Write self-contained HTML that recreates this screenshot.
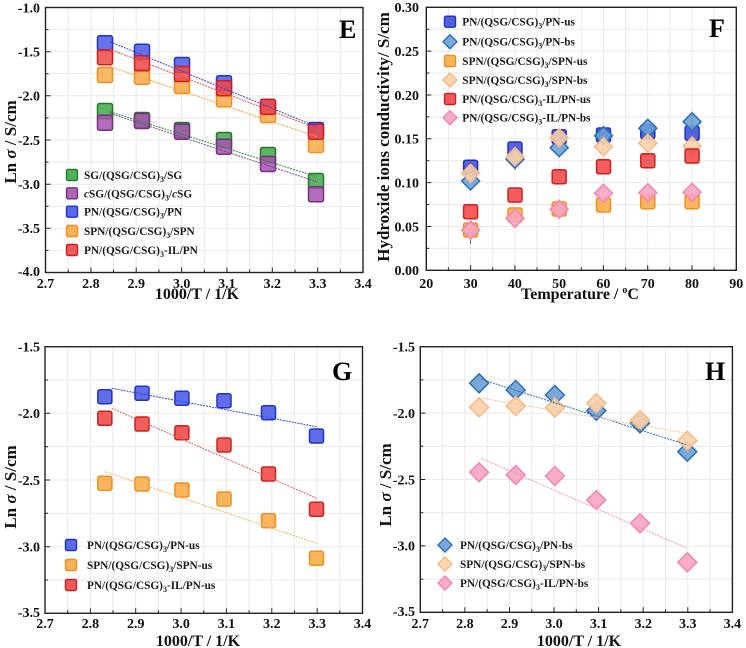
<!DOCTYPE html>
<html><head><meta charset="utf-8"><style>
html,body{margin:0;padding:0;background:#fff;}
svg{display:block;}
text{font-family:"Liberation Serif",serif;}
.tl{font-size:14px;font-weight:bold;fill:#111;}
.tt{font-size:16px;font-weight:bold;fill:#111;}
.yt{font-size:17px;font-weight:bold;fill:#111;}
.lg{font-size:11.3px;font-weight:bold;fill:#1a1a1a;}
.lt{font-size:26px;font-weight:bold;fill:#000;}
.grid{stroke:#e9e9e9;stroke-width:1;fill:none;}
.fr{fill:none;stroke:#222;stroke-width:1.4;}
.tk{stroke:#222;stroke-width:1;fill:none;}
</style></head><body>
<svg width="746" height="648" viewBox="0 0 746 648" xmlns="http://www.w3.org/2000/svg">
<defs>
<rect id="sq" x="-7.5" y="-7.5" width="15" height="15" rx="2"/>
<rect id="sqs" x="-7" y="-7" width="14" height="14" rx="2"/>
<rect id="sql" x="-5.5" y="-5.5" width="11" height="11" rx="1.5"/>
<path id="dm" d="M0 -9 L9 0 L0 9 L-9 0Z"/>
<path id="dmh" d="M0 -9.5 L9.5 0 L0 9.5 L-9.5 0Z"/>
<path id="dml" d="M0 -7 L7 0 L0 7 L-7 0Z"/>
</defs>

<!-- ================= PANEL E ================= -->
<path class="grid" d="M68.2 7.5V272.5M90.9 7.5V272.5M113.5 7.5V272.5M136.2 7.5V272.5M158.9 7.5V272.5M181.6 7.5V272.5M204.3 7.5V272.5M226.9 7.5V272.5M249.6 7.5V272.5M272.3 7.5V272.5M295 7.5V272.5M317.7 7.5V272.5M340.3 7.5V272.5
M45.5 29.6H363M45.5 51.7H363M45.5 73.7H363M45.5 95.8H363M45.5 117.9H363M45.5 140H363M45.5 162.1H363M45.5 184.2H363M45.5 206.2H363M45.5 228.3H363M45.5 250.4H363"/>
<path class="tk" d="M68.2 272.5v-3M90.9 272.5v-5M113.5 272.5v-3M136.2 272.5v-5M158.9 272.5v-3M181.6 272.5v-5M204.3 272.5v-3M226.9 272.5v-5M249.6 272.5v-3M272.3 272.5v-5M295 272.5v-3M317.7 272.5v-5M340.3 272.5v-3
M45.5 29.6h3M45.5 51.7h5M45.5 73.7h3M45.5 95.8h5M45.5 117.9h3M45.5 140h5M45.5 162.1h3M45.5 184.2h5M45.5 206.2h3M45.5 228.3h5M45.5 250.4h3"/>
<rect class="fr" x="45.5" y="7.5" width="317.5" height="265"/>

<g stroke-width="1.5" fill-opacity="0.85">
<g fill="#3fa84a" stroke="#1d7a2a">
<use href="#sq" x="105" y="111"/><use href="#sq" x="142" y="120"/><use href="#sq" x="182" y="130"/><use href="#sq" x="224" y="140"/><use href="#sq" x="268" y="155"/><use href="#sq" x="316" y="181"/>
</g>
<g fill="#a455ae" stroke="#74307f">
<use href="#sq" x="105" y="122.7"/><use href="#sq" x="142" y="121"/><use href="#sq" x="182" y="131.7"/><use href="#sq" x="224" y="146.7"/><use href="#sq" x="268" y="164"/><use href="#sq" x="316" y="194.3"/>
</g>
<g fill="#4a5ae8" stroke="#2232c4">
<use href="#sq" x="105" y="43.3"/><use href="#sq" x="142" y="51.7"/><use href="#sq" x="182" y="65"/><use href="#sq" x="224" y="83.3"/><use href="#sq" x="268" y="107.3"/><use href="#sq" x="316" y="130"/>
</g>
<g fill="#f8ac48" stroke="#ee9020">
<use href="#sq" x="105" y="75"/><use href="#sq" x="142" y="76.7"/><use href="#sq" x="182" y="86"/><use href="#sq" x="224" y="99.3"/><use href="#sq" x="268" y="115"/><use href="#sq" x="316" y="145"/>
</g>
<g fill="#f04848" stroke="#cc2020">
<use href="#sq" x="105" y="57.3"/><use href="#sq" x="142" y="63.3"/><use href="#sq" x="182" y="74"/><use href="#sq" x="224" y="88.3"/><use href="#sq" x="268" y="106.7"/><use href="#sq" x="316" y="131.7"/>
</g>
</g>
<g stroke-width="1" stroke-dasharray="2,1">
<path d="M110 41.7L316.7 126.7" stroke="#3344dd"/>
<path d="M110 49.3L316.7 128.3" stroke="#e84a4a"/>
<path d="M110 66.7L316.7 136.7" stroke="#f5a040"/>
<path d="M110 111.7L316.7 176.7" stroke="#2a8a3a"/>
<path d="M110 113.3L316.7 181.7" stroke="#8a3f98"/>
</g>

<!-- legend E -->
<g stroke-width="1.4" fill-opacity="0.9">
<use href="#sql" x="72" y="175" fill="#3fa84a" stroke="#1d7a2a"/>
<use href="#sql" x="72" y="193.3" fill="#a455ae" stroke="#74307f"/>
<use href="#sql" x="72" y="211.7" fill="#4a5ae8" stroke="#2232c4"/>
<use href="#sql" x="72" y="231" fill="#f8ac48" stroke="#ee9020"/>
<use href="#sql" x="72" y="250" fill="#f04848" stroke="#cc2020"/>
</g>
<text class="lg" x="84" y="179">SG/(QSG/CSG)<tspan font-size="8" dy="3">3</tspan><tspan dy="-3">/SG</tspan></text>
<text class="lg" x="84" y="197.3"><tspan font-style="italic">c</tspan>SG/(QSG/CSG)<tspan font-size="8" dy="3">3</tspan><tspan dy="-3">/</tspan><tspan font-style="italic">c</tspan>SG</text>
<text class="lg" x="84" y="215.7">PN/(QSG/CSG)<tspan font-size="8" dy="3">3</tspan><tspan dy="-3">/PN</tspan></text>
<text class="lg" x="84" y="235">SPN/(QSG/CSG)<tspan font-size="8" dy="3">3</tspan><tspan dy="-3">/SPN</tspan></text>
<text class="lg" x="84" y="254">PN/(QSG/CSG)<tspan font-size="8" dy="3">3</tspan><tspan dy="-3">-IL/PN</tspan></text>

<text class="lt" x="339" y="38">E</text>
<g class="tl" text-anchor="end">
<text x="40" y="12.3">-1.0</text><text x="40" y="56.5">-1.5</text><text x="40" y="100.6">-2.0</text><text x="40" y="144.8">-2.5</text><text x="40" y="189">-3.0</text><text x="40" y="233.1">-3.5</text><text x="40" y="276">-4.0</text>
</g>
<g class="tl" text-anchor="middle">
<text x="45.5" y="288">2.7</text><text x="90.9" y="288">2.8</text><text x="136.2" y="288">2.9</text><text x="181.6" y="288">3.0</text><text x="226.9" y="288">3.1</text><text x="272.3" y="288">3.2</text><text x="317.7" y="288">3.3</text><text x="363" y="288">3.4</text>
</g>
<text class="tt" x="197" y="299" text-anchor="middle">1000/T / 1/K</text>
<text class="yt" transform="translate(16,142) rotate(-90)" text-anchor="middle">Ln <tspan font-style="italic">σ</tspan> / S/cm</text>

<!-- ================= PANEL F ================= -->
<path class="grid" d="M448.4 7.3V270.3M470.6 7.3V270.3M492.7 7.3V270.3M514.9 7.3V270.3M537 7.3V270.3M559.1 7.3V270.3M581.3 7.3V270.3M603.4 7.3V270.3M625.6 7.3V270.3M647.7 7.3V270.3M669.8 7.3V270.3M692 7.3V270.3M714.1 7.3V270.3
M426.3 248.4H736.3M426.3 226.5H736.3M426.3 204.5H736.3M426.3 182.6H736.3M426.3 160.7H736.3M426.3 138.8H736.3M426.3 116.9H736.3M426.3 95H736.3M426.3 73H736.3M426.3 51.1H736.3M426.3 29.2H736.3"/>
<path class="tk" d="M448.4 270.3v-3M470.6 270.3v-5M492.7 270.3v-3M514.9 270.3v-5M537 270.3v-3M559.1 270.3v-5M581.3 270.3v-3M603.4 270.3v-5M625.6 270.3v-3M647.7 270.3v-5M669.8 270.3v-3M692 270.3v-5M714.1 270.3v-3
M426.3 248.4h3M426.3 226.5h5M426.3 204.5h3M426.3 182.6h5M426.3 160.7h3M426.3 138.8h5M426.3 116.9h3M426.3 95h5M426.3 73h3M426.3 51.1h5M426.3 29.2h3"/>
<rect class="fr" x="426.3" y="7.3" width="310" height="263"/>

<!-- error bars -->
<path d="M470.6 222V244M515 150V170M692 112V130M559.2 134V142M470.6 160V176M603.5 128V142" stroke="#555" stroke-width="0.9"/>

<g stroke-width="1.5" fill-opacity="0.88">
<g fill="#3e4fd8" stroke="#2030c0">
<use href="#sqs" x="470.6" y="167.3"/><use href="#sqs" x="515" y="149"/><use href="#sqs" x="559.2" y="136.7"/><use href="#sqs" x="603.5" y="135"/><use href="#sqs" x="647.8" y="131.7"/><use href="#sqs" x="692.1" y="133.3"/>
</g>
<g fill="#6b9fd4" stroke="#2a70b8">
<use href="#dm" x="470.6" y="181"/><use href="#dm" x="515" y="159.3"/><use href="#dm" x="559.2" y="147.7"/><use href="#dm" x="603.5" y="135.7"/><use href="#dm" x="647.8" y="128.3"/><use href="#dm" x="692.1" y="121.7"/>
</g>
<g fill="#f8ac48" stroke="#ee9020">
<use href="#sqs" x="470.6" y="230"/><use href="#sqs" x="515" y="215"/><use href="#sqs" x="559.2" y="209"/><use href="#sqs" x="603.5" y="205"/><use href="#sqs" x="647.8" y="201.7"/><use href="#sqs" x="692.1" y="201.7"/>
</g>
<g fill="#fcd0a8" stroke="#f8b888">
<use href="#dm" x="470.6" y="173.3"/><use href="#dm" x="515" y="156.7"/><use href="#dm" x="559.2" y="137.7"/><use href="#dm" x="603.5" y="146.7"/><use href="#dm" x="647.8" y="143.3"/><use href="#dm" x="692.1" y="146"/>
</g>
<g fill="#f04848" stroke="#cc2020">
<use href="#sqs" x="470.6" y="211.7"/><use href="#sqs" x="515" y="195"/><use href="#sqs" x="559.2" y="176.7"/><use href="#sqs" x="603.5" y="166.7"/><use href="#sqs" x="647.8" y="160.7"/><use href="#sqs" x="692.1" y="156"/>
</g>
<g fill="#f8a4c4" stroke="#f088b0">
<use href="#dm" x="470.6" y="230"/><use href="#dm" x="515" y="218.3"/><use href="#dm" x="559.2" y="209.3"/><use href="#dm" x="603.5" y="193.3"/><use href="#dm" x="647.8" y="192.7"/><use href="#dm" x="692.1" y="192.3"/>
</g>
</g>

<!-- legend F -->
<g stroke-width="1.4" fill-opacity="0.9">
<use href="#sql" x="450" y="21.7" fill="#3e4fd8" stroke="#2030c0"/>
<use href="#dml" x="450" y="41.7" fill="#6b9fd4" stroke="#2a70b8"/>
<use href="#sql" x="450" y="61" fill="#f8ac48" stroke="#ee9020"/>
<use href="#dml" x="450" y="80" fill="#fcd0a8" stroke="#f8b888"/>
<use href="#sql" x="450" y="99" fill="#f04848" stroke="#cc2020"/>
<use href="#dml" x="450" y="117.7" fill="#f8a4c4" stroke="#f088b0"/>
</g>
<text class="lg" x="462.3" y="25.7">PN/(QSG/CSG)<tspan font-size="8" dy="3">3</tspan><tspan dy="-3">/PN-us</tspan></text>
<text class="lg" x="462.3" y="45.7">PN/(QSG/CSG)<tspan font-size="8" dy="3">3</tspan><tspan dy="-3">/PN-bs</tspan></text>
<text class="lg" x="462.3" y="65">SPN/(QSG/CSG)<tspan font-size="8" dy="3">3</tspan><tspan dy="-3">/SPN-us</tspan></text>
<text class="lg" x="462.3" y="84">SPN/(QSG/CSG)<tspan font-size="8" dy="3">3</tspan><tspan dy="-3">/SPN-bs</tspan></text>
<text class="lg" x="462.3" y="103">PN/(QSG/CSG)<tspan font-size="8" dy="3">3</tspan><tspan dy="-3">-IL/PN-us</tspan></text>
<text class="lg" x="462.3" y="121.7">PN/(QSG/CSG)<tspan font-size="8" dy="3">3</tspan><tspan dy="-3">-IL/PN-bs</tspan></text>

<text class="lt" x="709" y="37">F</text>
<g class="tl" text-anchor="end">
<text x="419" y="275">0.00</text><text x="419" y="231.3">0.05</text><text x="419" y="187.4">0.10</text><text x="419" y="143.6">0.15</text><text x="419" y="99.8">0.20</text><text x="419" y="55.9">0.25</text><text x="419" y="12.1">0.30</text>
</g>
<g class="tl" text-anchor="middle">
<text x="426.3" y="288">20</text><text x="470.6" y="288">30</text><text x="514.9" y="288">40</text><text x="559.1" y="288">50</text><text x="603.4" y="288">60</text><text x="647.7" y="288">70</text><text x="692" y="288">80</text><text x="736.3" y="288">90</text>
</g>
<text class="tt" x="580" y="299" text-anchor="middle">Temperature / <tspan font-size="10" dy="-6">o</tspan><tspan dy="6">C</tspan></text>
<text class="yt" transform="translate(389,137) rotate(-90)" text-anchor="middle">Hydroxide ions conductivity/ S/cm</text>

<!-- ================= PANEL G ================= -->
<path class="grid" d="M67.7 346.7V613.3M90.4 346.7V613.3M113 346.7V613.3M135.7 346.7V613.3M158.4 346.7V613.3M181.1 346.7V613.3M203.8 346.7V613.3M226.4 346.7V613.3M249.1 346.7V613.3M271.8 346.7V613.3M294.5 346.7V613.3M317.2 346.7V613.3M339.8 346.7V613.3
M45 380H362.5M45 413.3H362.5M45 446.7H362.5M45 480H362.5M45 513.3H362.5M45 546.7H362.5M45 580H362.5"/>
<path class="tk" d="M67.7 613.3v-3M90.4 613.3v-5M113 613.3v-3M135.7 613.3v-5M158.4 613.3v-3M181.1 613.3v-5M203.8 613.3v-3M226.4 613.3v-5M249.1 613.3v-3M271.8 613.3v-5M294.5 613.3v-3M317.2 613.3v-5M339.8 613.3v-3
M45 380h3M45 413.3h5M45 446.7h3M45 480h5M45 513.3h3M45 546.7h5M45 580h3"/>
<rect class="fr" x="45" y="346.7" width="317.5" height="266.6"/>

<g stroke-width="1.5" fill-opacity="0.88">
<g fill="#4a5ae8" stroke="#2232c4">
<use href="#sqs" x="104.8" y="396.7"/><use href="#sqs" x="142" y="393.3"/><use href="#sqs" x="181.9" y="398.3"/><use href="#sqs" x="224" y="400.7"/><use href="#sqs" x="268.5" y="412.7"/><use href="#sqs" x="316.5" y="436"/>
</g>
<g fill="#f8ac48" stroke="#ee9020">
<use href="#sqs" x="104.8" y="483.3"/><use href="#sqs" x="142" y="484"/><use href="#sqs" x="181.9" y="490"/><use href="#sqs" x="224" y="499"/><use href="#sqs" x="268.5" y="520.7"/><use href="#sqs" x="316.5" y="558.3"/>
</g>
<g fill="#f04848" stroke="#cc2020">
<use href="#sqs" x="104.8" y="418.3"/><use href="#sqs" x="142" y="424"/><use href="#sqs" x="181.9" y="432.7"/><use href="#sqs" x="224" y="445"/><use href="#sqs" x="268.5" y="474"/><use href="#sqs" x="316.5" y="509.3"/>
</g>
</g>
<g stroke-width="1" stroke-dasharray="2,1">
<path d="M111.7 388.3L316.7 426.7" stroke="#3344dd"/>
<path d="M111.7 408.3L316.7 498.3" stroke="#ee5a5a"/>
<path d="M105 471.7L316.7 543.3" stroke="#f8b060"/>
</g>

<g stroke-width="1.4" fill-opacity="0.9">
<use href="#sql" x="71" y="545" fill="#4a5ae8" stroke="#2232c4"/>
<use href="#sql" x="71" y="565" fill="#f8ac48" stroke="#ee9020"/>
<use href="#sql" x="71" y="585" fill="#f04848" stroke="#cc2020"/>
</g>
<text class="lg" x="87" y="549">PN/(QSG/CSG)<tspan font-size="8" dy="3">3</tspan><tspan dy="-3">/PN-us</tspan></text>
<text class="lg" x="87" y="569">SPN/(QSG/CSG)<tspan font-size="8" dy="3">3</tspan><tspan dy="-3">/SPN-us</tspan></text>
<text class="lg" x="87" y="589">PN/(QSG/CSG)<tspan font-size="8" dy="3">3</tspan><tspan dy="-3">-IL/PN-us</tspan></text>

<text class="lt" x="332" y="380">G</text>
<g class="tl" text-anchor="end">
<text x="40" y="351.5">-1.5</text><text x="40" y="418.1">-2.0</text><text x="40" y="484.8">-2.5</text><text x="40" y="551.5">-3.0</text><text x="40" y="617">-3.5</text>
</g>
<g class="tl" text-anchor="middle">
<text x="45" y="628">2.7</text><text x="90.4" y="628">2.8</text><text x="135.7" y="628">2.9</text><text x="181.1" y="628">3.0</text><text x="226.4" y="628">3.1</text><text x="271.8" y="628">3.2</text><text x="317.2" y="628">3.3</text><text x="362.5" y="628">3.4</text>
</g>
<text class="tt" x="198" y="646" text-anchor="middle">1000/T / 1/K</text>
<text class="yt" transform="translate(16,487) rotate(-90)" text-anchor="middle">Ln <tspan font-style="italic">σ</tspan> / S/cm</text>

<!-- ================= PANEL H ================= -->
<path class="grid" d="M442.6 346.7V612.3M464.9 346.7V612.3M487.2 346.7V612.3M509.5 346.7V612.3M531.8 346.7V612.3M554 346.7V612.3M576.3 346.7V612.3M598.6 346.7V612.3M620.9 346.7V612.3M643.2 346.7V612.3M665.5 346.7V612.3M687.8 346.7V612.3M710.1 346.7V612.3
M420.3 379.9H732.4M420.3 413.1H732.4M420.3 446.3H732.4M420.3 479.5H732.4M420.3 512.7H732.4M420.3 545.9H732.4M420.3 579.1H732.4"/>
<path class="tk" d="M442.6 612.3v-3M464.9 612.3v-5M487.2 612.3v-3M509.5 612.3v-5M531.8 612.3v-3M554 612.3v-5M576.3 612.3v-3M598.6 612.3v-5M620.9 612.3v-3M643.2 612.3v-5M665.5 612.3v-3M687.8 612.3v-5M710.1 612.3v-3
M420.3 379.9h3M420.3 413.1h5M420.3 446.3h3M420.3 479.5h5M420.3 512.7h3M420.3 545.9h5M420.3 579.1h3"/>
<rect class="fr" x="420.3" y="346.7" width="312.1" height="265.6"/>

<g stroke-width="1.5" fill-opacity="0.9">
<g fill="#6b9fd4" stroke="#2a70b8">
<use href="#dmh" x="479.1" y="383.3"/><use href="#dmh" x="515.7" y="390"/><use href="#dmh" x="554.9" y="395"/><use href="#dmh" x="596.3" y="410.7"/><use href="#dmh" x="640" y="423.3"/><use href="#dmh" x="687.3" y="451.7"/>
</g>
<g fill="#fcd0a8" stroke="#f8b888">
<use href="#dmh" x="479.1" y="407.3"/><use href="#dmh" x="515.7" y="406"/><use href="#dmh" x="554.9" y="407.7"/><use href="#dmh" x="596.3" y="403.3"/><use href="#dmh" x="640" y="420"/><use href="#dmh" x="687.3" y="440.7"/>
</g>
<g fill="#f8a4c4" stroke="#f088b0">
<use href="#dmh" x="479.1" y="472.3"/><use href="#dmh" x="515.7" y="475"/><use href="#dmh" x="554.9" y="476"/><use href="#dmh" x="596.3" y="500"/><use href="#dmh" x="640" y="523.3"/><use href="#dmh" x="687.3" y="562.3"/>
</g>
</g>
<g stroke-width="1" stroke-dasharray="2,1">
<path d="M481.3 379.3L687.3 445" stroke="#2a70b8"/>
<path d="M483 398.3L687.3 433.3" stroke="#f8c098"/>
<path d="M481.3 458.3L687.3 548.3" stroke="#f59ab8"/>
</g>

<g stroke-width="1.4" fill-opacity="0.9">
<use href="#dml" x="445" y="545" fill="#6b9fd4" stroke="#2a70b8"/>
<use href="#dml" x="445" y="564" fill="#fcd0a8" stroke="#f8b888"/>
<use href="#dml" x="445" y="583" fill="#f8a4c4" stroke="#f088b0"/>
</g>
<text class="lg" x="460" y="549">PN/(QSG/CSG)<tspan font-size="8" dy="3">3</tspan><tspan dy="-3">/PN-bs</tspan></text>
<text class="lg" x="460" y="568">SPN/(QSG/CSG)<tspan font-size="8" dy="3">3</tspan><tspan dy="-3">/SPN-bs</tspan></text>
<text class="lg" x="460" y="587">PN/(QSG/CSG)<tspan font-size="8" dy="3">3</tspan><tspan dy="-3">-IL/PN-bs</tspan></text>

<text class="lt" x="705" y="380">H</text>
<g class="tl" text-anchor="end">
<text x="415" y="351.5">-1.5</text><text x="415" y="417.9">-2.0</text><text x="415" y="484.3">-2.5</text><text x="415" y="550.7">-3.0</text><text x="415" y="616">-3.5</text>
</g>
<g class="tl" text-anchor="middle">
<text x="420.3" y="628">2.7</text><text x="464.9" y="628">2.8</text><text x="509.5" y="628">2.9</text><text x="554" y="628">3.0</text><text x="598.6" y="628">3.1</text><text x="643.2" y="628">3.2</text><text x="687.8" y="628">3.3</text><text x="732.4" y="628">3.4</text>
</g>
<text class="tt" x="579" y="646" text-anchor="middle">1000/T / 1/K</text>
<text class="yt" transform="translate(391,485) rotate(-90)" text-anchor="middle">Ln <tspan font-style="italic">σ</tspan> / S/cm</text>
</svg>
</body></html>
